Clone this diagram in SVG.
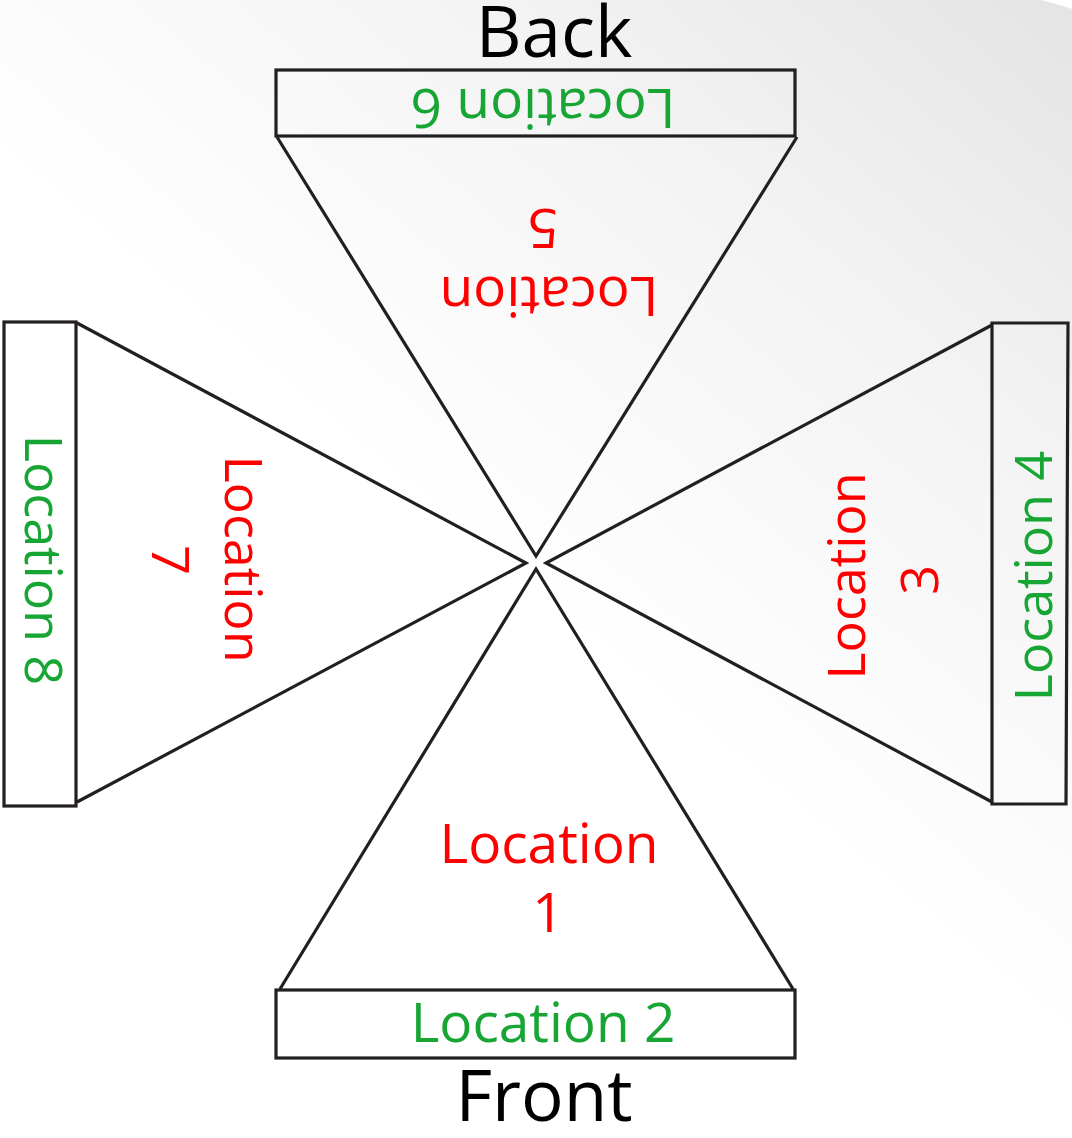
<svg xmlns="http://www.w3.org/2000/svg" width="1072" height="1138" viewBox="0 0 1072 1138">
  <defs>
    <linearGradient id="bg" gradientUnits="userSpaceOnUse" x1="560" y1="620" x2="1072" y2="0">
      <stop offset="0" stop-color="#ffffff"/>
      <stop offset="0.55" stop-color="#f3f3f3"/>
      <stop offset="1" stop-color="#e4e4e4"/>
    </linearGradient>
    <style>
      .shape { fill: none; stroke: #231f20; stroke-width: 3.2; stroke-linejoin: miter; }
      .txt { font-family: "Open Sans", "Liberation Sans", sans-serif; text-anchor: middle; }
      .red { fill: #ff0000; font-size: 55px; }
      .green { fill: #17a534; font-size: 55px; }
      .side { font-size: 52px; }
      .title { fill: #000000; font-size: 71px; }
    </style>
  </defs>

  <rect x="0" y="0" width="1072" height="1138" fill="#ffffff"/>
  <path d="M0,0 L1040,0 Q1058,4 1072,9 L1072,1138 L0,1138 Z" fill="url(#bg)"/>

  <g id="back-label">
    <text class="txt title" x="554" y="57">Back</text>
  </g>
  <g id="front-label">
    <text class="txt title" x="544" y="1121">Front</text>
  </g>

  <g id="location-6">
    <rect class="shape" x="276" y="70" width="519" height="66"/>
    <text class="txt green" transform="translate(543,89) rotate(180)" x="0" y="0">Location 6</text>
  </g>
  <g id="location-5">
    <polyline class="shape" points="277,137 536,556 797,137"/>
    <text class="txt red" transform="translate(549,277) rotate(180)"><tspan x="0" y="0">Location</tspan><tspan x="6" y="68">5</tspan></text>
  </g>

  <g id="location-8">
    <rect class="shape" x="4" y="322" width="72" height="484"/>
    <text class="txt green side" transform="translate(25,560) rotate(90)" x="0" y="0">Location 8</text>
  </g>
  <g id="location-7">
    <polyline class="shape" points="77,323 526,563 77,802"/>
    <text class="txt red side" transform="translate(225,559) rotate(90)"><tspan x="0" y="0">Location</tspan><tspan x="1" y="73">7</tspan></text>
  </g>

  <g id="location-4">
    <path class="shape" d="M992,323 L1068,323 L1066,804 L992,804 Z"/>
    <text class="txt green side" transform="translate(1052,576) rotate(-90)" x="0" y="0">Location 4</text>
  </g>
  <g id="location-3">
    <polyline class="shape" points="992,325 546,563 992,802"/>
    <text class="txt red side" transform="translate(865,576) rotate(-90)"><tspan x="0" y="0">Location</tspan><tspan x="-4" y="73">3</tspan></text>
  </g>

  <g id="location-2">
    <rect class="shape" x="276" y="990" width="519" height="68"/>
    <text class="txt green" x="543" y="1042">Location 2</text>
  </g>
  <g id="location-1">
    <polyline class="shape" points="280,989 536,569 793,989"/>
    <text class="txt red"><tspan x="549" y="863">Location</tspan><tspan x="548" y="932">1</tspan></text>
  </g>

  <g id="connectors"></g>
</svg>
